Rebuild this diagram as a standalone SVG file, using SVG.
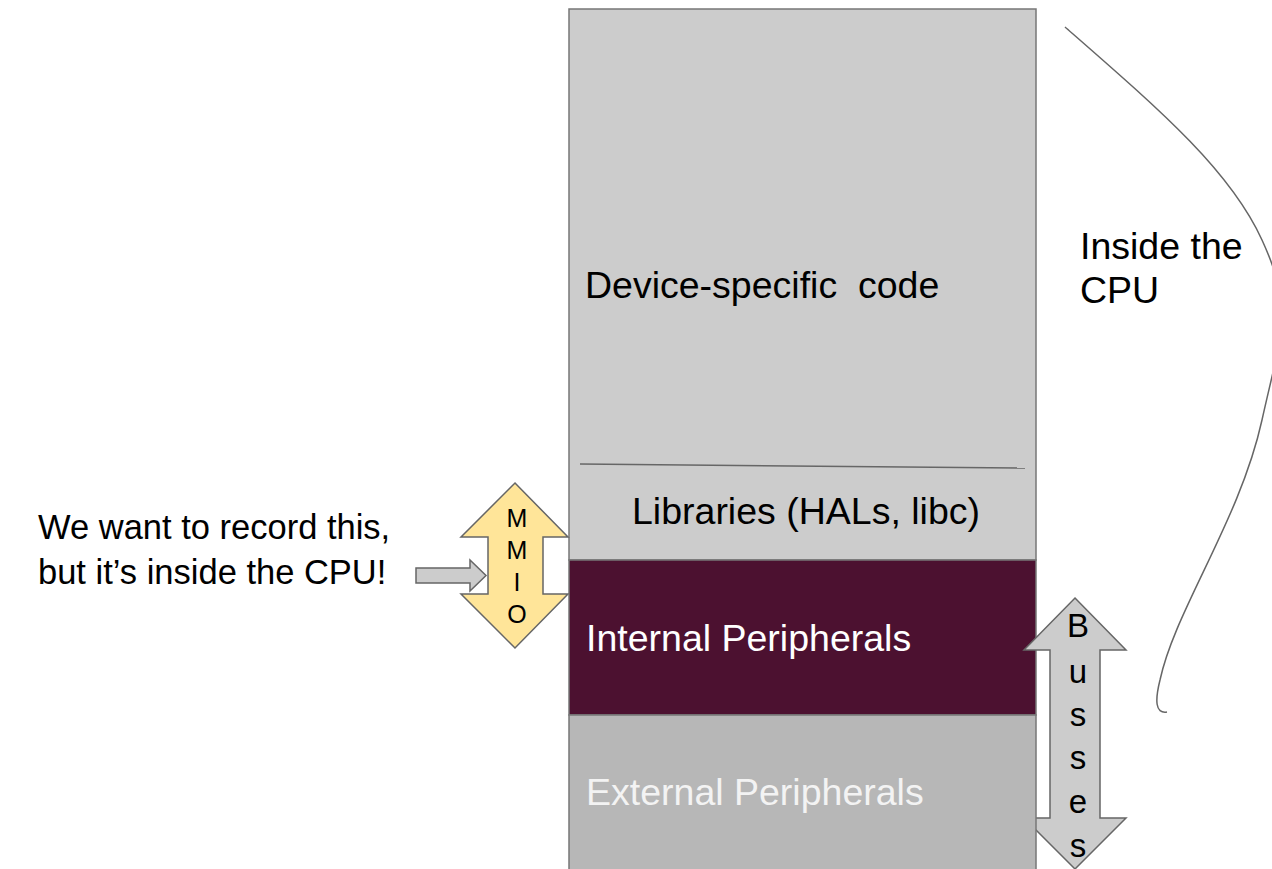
<svg xmlns="http://www.w3.org/2000/svg" width="1272" height="869" viewBox="0 0 1272 869">
  <style>
    .lbl { font-family: "Liberation Sans", Arial, sans-serif; }
    .layer { stroke: #777777; stroke-width: 1.5; }
    .arrow { stroke: #666666; stroke-width: 1.5; stroke-linejoin: miter; }
    .line { fill: none; stroke: #666666; stroke-width: 1.5; }
  </style>
  <rect width="1272" height="869" fill="#ffffff"/>

  <!-- firmware stack: device code + libraries -->
  <g id="device-code">
    <rect class="layer" x="569" y="9" width="467" height="551" fill="#cccccc"/>
    <text class="lbl" x="585" y="298" font-size="37.5" fill="#000000" xml:space="preserve">Device-specific  code</text>
  </g>
  <g id="libraries">
    <line class="line" x1="580" y1="464" x2="1025" y2="468"/>
    <text class="lbl" x="632" y="524" font-size="37.5" fill="#000000">Libraries (HALs, libc)</text>
  </g>
  <g id="internal-peripherals">
    <rect class="layer" x="569" y="560" width="467" height="155" fill="#4c1130"/>
    <text class="lbl" x="586" y="651" font-size="37.5" fill="#ffffff">Internal Peripherals</text>
  </g>

  <g id="connectors">
    <!-- Busses double arrow -->
    <g id="busses">
      <polygon class="arrow" fill="#cccccc" points="1075,598 1126,650 1100,650 1100,818 1126,818 1075,869 1024,818 1050,818 1050,650 1024,650"/>
      <g class="lbl" font-size="33" fill="#000000" text-anchor="middle">
        <text x="1078" y="637">B</text>
        <text x="1078" y="683">u</text>
        <text x="1078" y="726">s</text>
        <text x="1078" y="769">s</text>
        <text x="1078" y="813">e</text>
        <text x="1078" y="857">s</text>
      </g>
    </g>
  </g>

  <g id="external-peripherals">
    <rect class="layer" x="569" y="715" width="467" height="160" fill="#b7b7b7"/>
    <text class="lbl" x="586" y="805" font-size="37.5" fill="#f3f3f3">External Peripherals</text>
  </g>

  <!-- MMIO double arrow -->
  <g id="mmio">
    <polygon class="arrow" fill="#ffe599" points="515,483 568,537 543,537 543,594 568,594 515,648 461,594 488,594 488,537 461,537"/>
    <g class="lbl" font-size="25" fill="#000000" text-anchor="middle">
      <text x="517" y="527">M</text>
      <text x="517" y="559">M</text>
      <text x="517" y="591">I</text>
      <text x="517" y="623">O</text>
    </g>
  </g>

  <!-- pointer from the note to MMIO -->
  <g id="pointer">
    <polygon class="arrow" fill="#cccccc" points="416,568 470,568 470,560 486,575.5 470,591 470,583 416,583"/>
  </g>

  <g id="note">
    <text class="lbl" font-size="34.5" fill="#000000">
      <tspan x="38" y="539">We want to record this,</tspan>
      <tspan x="38" y="584">but it’s inside the CPU!</tspan>
    </text>
  </g>

  <!-- brace marking what lives inside the CPU -->
  <g id="cpu-brace">
    <path class="line" d="M1065,27 C1160,110 1230,170 1262,240 S1282,330 1262,420 C1240,520 1175,610 1160,680 C1155,700 1155,714 1167,712"/>
    <text class="lbl" font-size="37.5" fill="#000000">
      <tspan x="1080" y="259">Inside the</tspan>
      <tspan x="1080" y="303">CPU</tspan>
    </text>
  </g>
</svg>
